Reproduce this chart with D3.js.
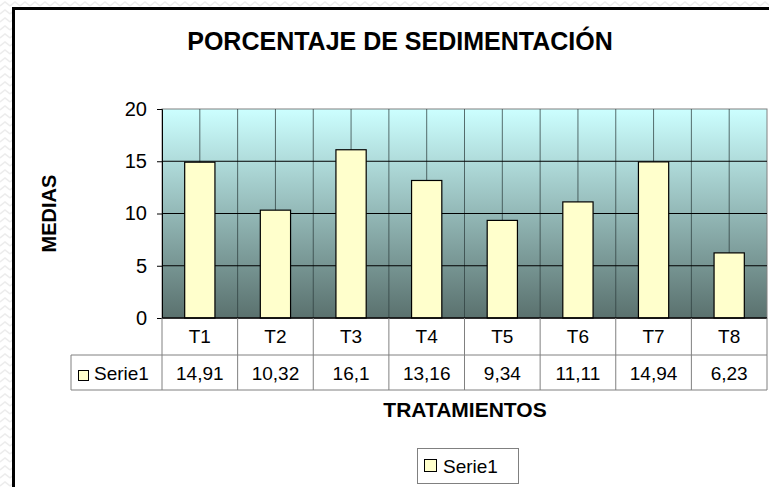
<!DOCTYPE html>
<html>
<head>
<meta charset="utf-8">
<script src="https://cdn.jsdelivr.net/npm/d3@7"></script>
<style>
  html, body { margin: 0; padding: 0; background: #fff; }
  svg { display: block; font-family: "Liberation Sans", Arial, sans-serif; }
</style>
</head>
<body>
<svg width="769" height="487"></svg>
<script>
const categories = ["T1", "T2", "T3", "T4", "T5", "T6", "T7", "T8"];
const values = [14.91, 10.32, 16.1, 13.16, 9.34, 11.11, 14.94, 6.23];
const valueLabels = ["14,91", "10,32", "16,1", "13,16", "9,34", "11,11", "14,94", "6,23"];
const yTicks = [0, 5, 10, 15, 20];
const seriesName = "Serie1";

const width = 769;
const height = 487;
const plot = { left: 162, right: 767, top: 109, bottom: 318 };
const rowH = 36;

const svg = d3.select("svg");
const defs = svg.append("defs");

// faint chevron background outside the frame
const pat = defs.append("pattern")
  .attr("id", "bgpat").attr("width", 10).attr("height", 8)
  .attr("patternUnits", "userSpaceOnUse");
pat.append("rect").attr("width", 10).attr("height", 8).attr("fill", "#fff");
pat.append("path").attr("d", "M0,6 L5,2 L10,6")
  .attr("fill", "none").attr("stroke", "#ececec").attr("stroke-width", 1.5);

const grad = defs.append("linearGradient")
  .attr("id", "plotgrad").attr("x1", 0).attr("y1", 0).attr("x2", 0).attr("y2", 1);
grad.append("stop").attr("offset", "0%").attr("stop-color", "#ccffff");
grad.append("stop").attr("offset", "100%").attr("stop-color", "#5a716e");

svg.append("rect").attr("width", width).attr("height", height).attr("fill", "url(#bgpat)");

// chart frame
svg.append("rect")
  .attr("x", 13.5).attr("y", 8.5).attr("width", width + 20).attr("height", height + 20)
  .attr("fill", "#fff").attr("stroke", "#000").attr("stroke-width", 3);

const x = d3.scaleBand().domain(categories).range([plot.left, plot.right]).padding(0);
const y = d3.scaleLinear().domain([0, 20]).range([plot.bottom, plot.top]);

// plot area
svg.append("rect")
  .attr("x", plot.left).attr("y", plot.top)
  .attr("width", plot.right - plot.left).attr("height", plot.bottom - plot.top)
  .attr("fill", "url(#plotgrad)").attr("stroke", "#808080");

// vertical gridlines at category boundaries and centres
const vlines = [];
categories.forEach((c) => {
  vlines.push(x(c));
  vlines.push(x(c) + x.bandwidth() / 2);
});
vlines.push(plot.right);
svg.append("g").selectAll("line")
  .data(vlines.slice(1, -1))
  .join("line")
  .attr("x1", (d) => d).attr("x2", (d) => d)
  .attr("y1", plot.top).attr("y2", plot.bottom)
  .attr("stroke", "#2f3f3f").attr("stroke-opacity", 0.75);

// horizontal gridlines
svg.append("g").selectAll("line")
  .data(yTicks.filter((t) => t > 0 && t < 20))
  .join("line")
  .attr("x1", plot.left).attr("x2", plot.right)
  .attr("y1", (d) => y(d)).attr("y2", (d) => y(d))
  .attr("stroke", "#000");

// bars
svg.append("g").selectAll("rect")
  .data(values)
  .join("rect")
  .attr("x", (d, i) => x(categories[i]) + x.bandwidth() * 0.3)
  .attr("y", (d) => y(d))
  .attr("width", x.bandwidth() * 0.4)
  .attr("height", (d) => y(0) - y(d))
  .attr("fill", "#ffffcc").attr("stroke", "#000").attr("stroke-width", 1.2);

// y axis
const yAxis = svg.append("g")
  .attr("transform", `translate(${plot.left},0)`)
  .call(d3.axisLeft(y).tickValues(yTicks).tickSize(5).tickPadding(10));
yAxis.select(".domain").attr("stroke", "#000");
yAxis.selectAll("text").attr("font-size", 20).attr("fill", "#000")
  .attr("font-family", "Liberation Sans, Arial, sans-serif");

// x axis line
svg.append("line")
  .attr("x1", plot.left).attr("x2", plot.right)
  .attr("y1", plot.bottom).attr("y2", plot.bottom)
  .attr("stroke", "#000").attr("stroke-width", 1.5);

// data table
const t = svg.append("g").attr("stroke", "#808080").attr("fill", "none");
const tabLeft = 71;
const r1 = plot.bottom, r2 = plot.bottom + 37, r3 = plot.bottom + 72;
t.append("line").attr("x1", tabLeft).attr("x2", plot.right).attr("y1", r2).attr("y2", r2);
t.append("line").attr("x1", tabLeft).attr("x2", plot.right).attr("y1", r3).attr("y2", r3);
t.append("line").attr("x1", tabLeft).attr("x2", tabLeft).attr("y1", r2).attr("y2", r3);
t.selectAll(".col")
  .data(categories.map((c) => x(c)).concat([plot.right]))
  .join("line")
  .attr("x1", (d) => d).attr("x2", (d) => d)
  .attr("y1", r1).attr("y2", r3);

svg.append("g").selectAll("text")
  .data(categories)
  .join("text")
  .attr("x", (d) => x(d) + x.bandwidth() / 2)
  .attr("y", r1 + 25)
  .attr("text-anchor", "middle").attr("font-size", 19)
  .text((d) => d);

svg.append("g").selectAll("text")
  .data(valueLabels)
  .join("text")
  .attr("x", (d, i) => x(categories[i]) + x.bandwidth() / 2)
  .attr("y", r2 + 25)
  .attr("text-anchor", "middle").attr("font-size", 19)
  .text((d) => d);

svg.append("rect").attr("x", 78.5).attr("y", 370.5).attr("width", 10).attr("height", 10)
  .attr("fill", "#ffffcc").attr("stroke", "#000");
svg.append("text").attr("x", 94).attr("y", r2 + 25).attr("font-size", 19).text(seriesName);

// titles
svg.append("text").attr("x", 400).attr("y", 50)
  .attr("text-anchor", "middle").attr("font-size", 25).attr("font-weight", "bold")
  .text("PORCENTAJE DE SEDIMENTACIÓN");

svg.append("text")
  .attr("transform", `translate(56,${(plot.top + plot.bottom) / 2}) rotate(-90)`)
  .attr("text-anchor", "middle").attr("font-size", 20).attr("font-weight", "bold")
  .text("MEDIAS");

svg.append("text").attr("x", 465).attr("y", 417)
  .attr("text-anchor", "middle").attr("font-size", 21).attr("font-weight", "bold")
  .text("TRATAMIENTOS");

// legend
svg.append("rect").attr("x", 417.5).attr("y", 448.5).attr("width", 101).attr("height", 35)
  .attr("fill", "#fff").attr("stroke", "#808080");
svg.append("rect").attr("x", 424.5).attr("y", 459.5).attr("width", 12).attr("height", 12)
  .attr("fill", "#ffffcc").attr("stroke", "#000");
svg.append("text").attr("x", 443).attr("y", 473).attr("font-size", 19).text(seriesName);
</script>
</body>
</html>
